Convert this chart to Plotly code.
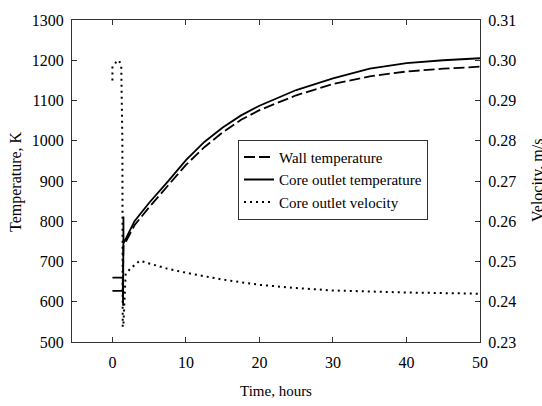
import plotly.graph_objects as go

# Core outlet temperature (K)
core_t = [0.0, 1.40, 1.45, 1.50, 1.50, 3, 5, 7.5, 10, 12.5, 15, 17.5, 20, 25, 30, 35, 40, 45, 50]
core_T = [660, 660, 590, 812, 745, 800, 846, 898, 952, 997, 1033, 1063, 1087, 1126, 1155, 1179, 1193, 1200, 1205]

# Wall temperature (K)
wall_t = [0.0, 1.40, 1.50, 3, 5, 7.5, 10, 12.5, 15, 17.5, 20, 25, 30, 35, 40, 45, 50]
wall_T = [627, 627, 738, 790, 835, 887, 940, 984, 1021, 1052, 1076, 1113, 1141, 1160, 1172, 1179, 1184]

# Core outlet velocity (m/s)
vel_t = [0.0, 0.0, 0.5, 0.9, 1.2, 1.3, 1.35, 1.4, 1.5, 1.8, 2.5, 3.7, 5, 7.5, 10, 15, 20, 25, 30, 40, 50]
vel_v = [0.295, 0.2985, 0.2995, 0.300, 0.2985, 0.290, 0.280, 0.2337, 0.2345, 0.247, 0.2483, 0.2502, 0.2495, 0.2482, 0.2472, 0.2455, 0.2442, 0.2434, 0.2428, 0.2423, 0.2420]

x_ticks = [0, 10, 20, 30, 40, 50]
T_ticks = [500, 600, 700, 800, 900, 1000, 1100, 1200, 1300]
v_ticks = [0.23, 0.24, 0.25, 0.26, 0.27, 0.28, 0.29, 0.30, 0.31]

FONT = "Liberation Serif, Times New Roman, Times, serif"
AX = "#333333"

W, H = 542, 406
ML, MR, MT, MB = 72, 62, 14, 64
PW = W - ML - MR
PH = H - MT - MB

fig = go.Figure()
fig.add_trace(go.Scatter(x=wall_t, y=wall_T, mode="lines", name="Wall temperature",
                         line=dict(color="black", width=1.8, dash="11px,4px")))
fig.add_trace(go.Scatter(x=core_t, y=core_T, mode="lines", name="Core outlet temperature",
                         line=dict(color="black", width=1.8)))
fig.add_trace(go.Scatter(x=vel_t, y=vel_v, mode="lines", name="Core outlet velocity", yaxis="y2",
                         line=dict(color="black", width=2, dash="2px,4px")))

axis_common = dict(showline=True, linecolor=AX, linewidth=1, ticks="inside", ticklen=5,
                   tickcolor=AX, showgrid=False, zeroline=False,
                   tickfont=dict(family=FONT, size=16, color="black"))

fig.update_layout(
    width=W, height=H,
    margin=dict(l=ML, r=MR, t=MT, b=MB),
    paper_bgcolor="white", plot_bgcolor="white",
    font=dict(family=FONT, size=16, color="black"),
    showlegend=True,
    legend=dict(x=(238 - 72) / PW, y=(342 - 136) / PH, xanchor="left", yanchor="top",
                bordercolor=AX, borderwidth=1, bgcolor="white",
                font=dict(family=FONT, size=15), tracegroupgap=0),
    xaxis=dict(range=[-5.5, 50], tickvals=x_ticks, mirror="ticks", ticklabelstandoff=6, **axis_common),
    yaxis=dict(range=[500, 1300], tickvals=T_ticks, ticklabelstandoff=4, **axis_common),
    yaxis2=dict(range=[0.23, 0.31], tickvals=v_ticks, tickformat=".2f", overlaying="y", side="right",
                ticklabelstandoff=4, **axis_common),
    annotations=[
        dict(text="Time, hours", xref="paper", yref="paper", x=0.5, y=-(392 - 342) / PH,
             xanchor="center", yanchor="middle", showarrow=False, font=dict(family=FONT, size=15)),
        dict(text="Temperature, K", xref="paper", yref="paper", x=-(72 - 16) / PW, y=0.5,
             xanchor="center", yanchor="middle", textangle=-90, showarrow=False,
             font=dict(family=FONT, size=16)),
        dict(text="Velocity, m/s", xref="paper", yref="paper", x=1 + (538 - 480) / PW, y=0.5,
             xanchor="center", yanchor="middle", textangle=-90, showarrow=False,
             font=dict(family=FONT, size=16)),
    ],
)

fig.write_html("out.html", config={"displayModeBar": False},
               post_script="document.body.style.margin='0';")
